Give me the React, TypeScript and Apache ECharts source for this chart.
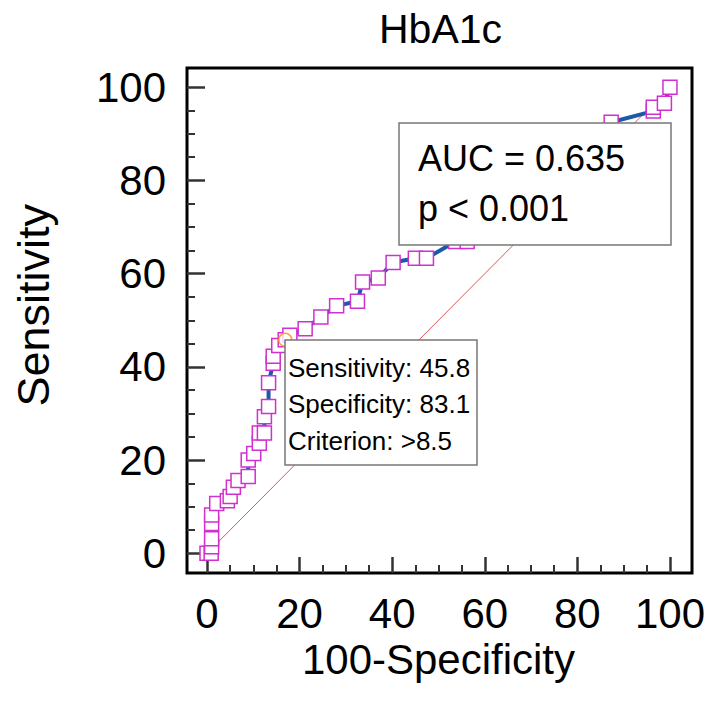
import React, { useEffect, useRef } from "react";
import * as echarts from "echarts";

// 100-Specificity (false positive rate, %)
const fprValues = [0, 0.9, 1.0, 1.0, 1.0, 1.0, 2.1, 4.4, 5.0, 5.7, 6.7, 8.9, 8.9, 10.1, 11.3, 11.3, 12.4, 12.4, 13.3, 13.3, 14.3, 14.3, 15.5, 16.9, 17.9, 21.2, 24.6, 28.0, 32.5, 33.6, 37.0, 40.2, 45.0, 47.4, 53.7, 56.2, 87.3, 96.4, 96.4, 98.8, 100];
// Sensitivity (true positive rate, %)
const tprValues = [0, 0, 1.4, 3.1, 6.4, 8.2, 10.7, 11.3, 12.2, 14.2, 15.6, 16.5, 20.0, 21.4, 23.6, 25.8, 25.8, 29.3, 31.5, 36.6, 40.8, 42.3, 44.6, 45.8, 46.8, 48.2, 50.7, 53.1, 54.1, 58.2, 59.1, 62.4, 63.3, 63.3, 66.9, 66.9, 92.5, 94.9, 95.7, 96.6, 100];
const criterionPoint = [16.9, 45.8];
const diagonal = [[0, 0], [100, 100]];
const axisMin = 0;
const axisMax = 100;
const majorInterval = 20;
const minorSplits = 4;
const titleText = "HbA1c";
const xName = "100-Specificity";
const yName = "Sensitivity";
const aucLines = ["AUC = 0.635", "p < 0.001"];
const criterionLines = ["Sensitivity: 45.8", "Specificity: 83.1", "Criterion: >8.5"];

const FONT = "'Liberation Sans', Arial, Helvetica, sans-serif";

export default function App() {
  const ref = useRef<HTMLDivElement>(null);
  useEffect(() => {
    document.body.style.margin = "0";
    if (!ref.current) return;
    const chart = echarts.init(ref.current, null, { renderer: "svg" });
    const axis = (isX: boolean) => ({
      type: "value",
      gridIndex: 0,
      min: axisMin,
      max: axisMax,
      interval: majorInterval,
      position: isX ? "bottom" : "left",
      offset: isX ? 19.7 : 20,
      axisLine: { show: false, onZero: false },
      axisTick: { show: true, inside: true, length: isX ? 16 : 18, lineStyle: { color: "#333", width: 2.5 } },
      minorTick: { show: true, splitNumber: minorSplits, length: 8, lineStyle: { color: "#333", width: 2 } },
      axisLabel: { show: true, fontSize: 42, color: "#000", fontFamily: FONT, margin: isX ? 19 : 21 },
      splitLine: { show: false },
      minorSplitLine: { show: false },
      name: isX ? xName : yName,
      nameLocation: "middle",
      nameGap: isX ? 59 : 131,
      nameTextStyle: isX
        ? { fontSize: 42, color: "#000", fontFamily: FONT }
        : { fontSize: 45, color: "#000", fontFamily: FONT, padding: [0, 0, 0, 30] },
    });
    const frameAxis = {
      type: "value",
      gridIndex: 1,
      show: false,
      min: 0,
      max: 1,
    };
    const rocData = fprValues.map((x, i) => [x, tprValues[i]]);
    chart.setOption({
      animation: false,
      backgroundColor: "#fff",
      title: {
        text: titleText,
        left: 374,
        top: 3,
        textStyle: { fontSize: 41, fontWeight: "normal", color: "#000", fontFamily: FONT },
      },
      grid: [
        { left: 207, top: 87.3, width: 466, height: 466, show: false },
        {
          left: 187,
          top: 68,
          width: 505,
          height: 505,
          show: true,
          borderColor: "#000",
          borderWidth: 3,
          backgroundColor: "transparent",
        },
      ],
      xAxis: [axis(true), frameAxis],
      yAxis: [axis(false), frameAxis],
      series: [
        {
          type: "line",
          data: diagonal,
          symbol: "none",
          clip: false,
          lineStyle: { color: "#e04040", width: 0.9 },
          z: 1,
        },
        {
          type: "line",
          data: rocData,
          symbol: "rect",
          symbolSize: 14,
          showAllSymbol: true,
          clip: false,
          itemStyle: { color: "#fff", borderColor: "#d030d0", borderWidth: 1.5 },
          lineStyle: { color: "#1a5aa8", width: 4 },
          z: 3,
        },
        {
          type: "scatter",
          data: [criterionPoint],
          symbol: "circle",
          symbolSize: 13,
          clip: false,
          itemStyle: { color: "#fff", borderColor: "#ff8a1a", borderWidth: 1.5 },
          z: 4,
        },
      ],
      graphic: [
        {
          type: "group",
          z: 100,
          children: [
            { type: "rect", z: 100, shape: { x: 399, y: 123, width: 272, height: 122 }, style: { fill: "#fff", stroke: "#777", lineWidth: 1.5 } },
            { type: "text", z: 101, x: 418, y: 158.8, style: { text: aucLines[0], fontSize: 36, fontFamily: FONT, fill: "#000", verticalAlign: "middle" } },
            { type: "text", z: 101, x: 418, y: 208.8, style: { text: aucLines[1], fontSize: 36, fontFamily: FONT, fill: "#000", verticalAlign: "middle" } },
            { type: "rect", z: 100, shape: { x: 285, y: 340, width: 192, height: 125 }, style: { fill: "#fff", stroke: "#777", lineWidth: 1.5 } },
            { type: "text", z: 101, x: 288, y: 367.7, style: { text: criterionLines[0], fontSize: 26, fontFamily: FONT, fill: "#000", verticalAlign: "middle" } },
            { type: "text", z: 101, x: 288, y: 404.3, style: { text: criterionLines[1], fontSize: 26, fontFamily: FONT, fill: "#000", verticalAlign: "middle" } },
            { type: "text", z: 101, x: 288, y: 441, style: { text: criterionLines[2], fontSize: 26, fontFamily: FONT, fill: "#000", verticalAlign: "middle" } },
          ],
        },
      ],
    });
    return () => chart.dispose();
  }, []);
  return <div ref={ref} style={{ width: 708, height: 706 }} />;
}
